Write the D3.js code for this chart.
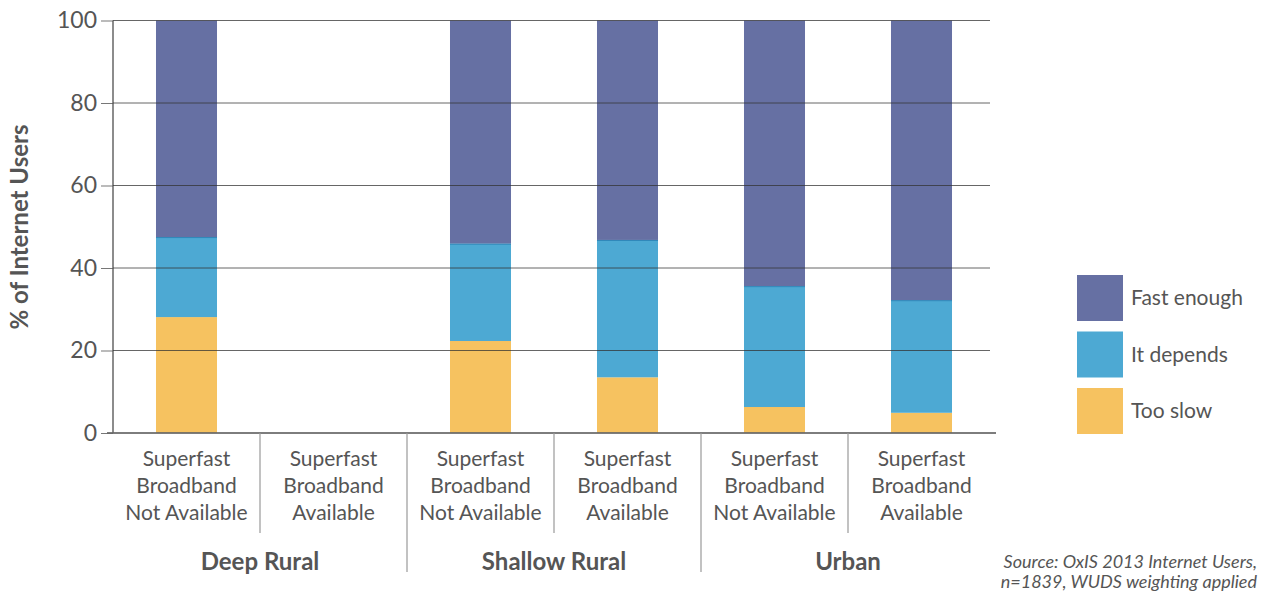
<!DOCTYPE html>
<html>
<head>
<meta charset="utf-8">
<style>
  body { margin: 0; background: #fff; }
  text { font-family: Lato, "Open Sans", sans-serif; fill: #555; }
</style>
</head>
<body>
<div id="chart"></div>
<script src="https://d3js.org/d3.v7.min.js"></script>
<script>

// data
var groups = ["Deep Rural", "Shallow Rural", "Urban"];
var subLabels = [
  ["Superfast", "Broadband", "Not Available"],
  ["Superfast", "Broadband", "Available"]
];
var seriesNames = ["Too slow", "It depends", "Fast enough"];
var tooSlow    = [28.1, null, 22.3, 13.5, 6.3, 4.9];
var itDepends  = [19.4, null, 23.6, 33.3, 29.3, 27.3];
var fastEnough = [52.5, null, 54.1, 53.2, 64.4, 67.8];
var yTicks = [0, 20, 40, 60, 80, 100];
var colors = ["#F6C260", "#4DA9D3", "#6670A3"];

var W = 1268, H = 592;
var mLeft = 113, mRight = 995, mTop = 20.5, mBottom = 433;

var svg = d3.select("#chart").append("svg")
    .attr("width", W).attr("height", H);

// one slot per bar
var slots = [];
groups.forEach(function(g, gi) {
  subLabels.forEach(function(s, si) { slots.push(gi * 2 + si); });
});

var x = d3.scaleBand().domain(slots).range([mLeft, mRight]).paddingInner(0.585).paddingOuter(0.2925);
var y = d3.scaleLinear().domain([0, 100]).range([mBottom, mTop]);
var bw = (mRight - mLeft) / slots.length;

// stacked data
var rows = slots.map(function(i) {
  return { i: i, "Too slow": tooSlow[i], "It depends": itDepends[i], "Fast enough": fastEnough[i] };
}).filter(function(d) { return d["Too slow"] != null; });
var stack = d3.stack().keys(seriesNames)(rows);

svg.append("g").selectAll("g")
  .data(stack)
  .join("g")
    .attr("fill", function(d, k) { return colors[k]; })
  .selectAll("rect")
  .data(function(d) { return d; })
  .join("rect")
    .attr("x", function(d) { return x(d.data.i); })
    .attr("width", x.bandwidth())
    .attr("y", function(d) { return y(d[1]); })
    .attr("height", function(d) { return y(d[0]) - y(d[1]); });

// thin darker line on top of the "It depends" segments
svg.append("g").selectAll("line")
  .data(stack[1])
  .join("line")
    .attr("x1", function(d) { return x(d.data.i); })
    .attr("x2", function(d) { return x(d.data.i) + x.bandwidth(); })
    .attr("y1", function(d) { return y(d[1]) + 0.5; })
    .attr("y2", function(d) { return y(d[1]) + 0.5; })
    .attr("stroke", "#2F86B8").attr("stroke-width", 1);

// gridlines + y axis
var yAxis = svg.append("g")
    .attr("transform", "translate(" + mLeft + ",0)")
    .call(d3.axisLeft(y).tickValues(yTicks).tickSize(12).tickPadding(4));
yAxis.select(".domain").attr("stroke", "#666").attr("stroke-width", 1.5).attr("d", "M0," + mTop + "V" + mBottom);
yAxis.selectAll(".tick line").attr("stroke", "#555").attr("stroke-opacity", 0.8);
yAxis.selectAll(".tick text").style("font-size", "23px").style("font-family", "Lato").attr("fill", "#555");

svg.append("g").selectAll("line")
  .data(yTicks.filter(function(t) { return t > 0; }))
  .join("line")
    .attr("x1", mLeft).attr("x2", mRight - 5)
    .attr("y1", function(d) { return y(d); })
    .attr("y2", function(d) { return y(d); })
    .attr("stroke", "#333").attr("stroke-opacity", 0.75).attr("stroke-width", 1);

// bottom axis line
svg.append("line")
    .attr("x1", mLeft - 6).attr("x2", mRight + 1)
    .attr("y1", mBottom).attr("y2", mBottom)
    .attr("stroke", "#666").attr("stroke-opacity", 0.85).attr("stroke-width", 2);

// dividers
for (var k = 1; k < slots.length; k++) {
  var xx = mLeft + k * bw;
  svg.append("line")
      .attr("x1", xx).attr("x2", xx)
      .attr("y1", mBottom).attr("y2", k % 2 === 0 ? 572 : 533)
      .attr("stroke", "#999").attr("stroke-width", 1.2);
}

// category labels
slots.forEach(function(i) {
  var t = svg.append("text")
      .attr("text-anchor", "middle")
      .style("font-size", "21px");
  subLabels[i % 2].forEach(function(line, li) {
    t.append("tspan")
        .attr("x", x(i) + x.bandwidth() / 2)
        .attr("y", 466 + li * 27)
        .text(line);
  });
});

// group labels
groups.forEach(function(g, gi) {
  svg.append("text")
      .attr("x", mLeft + (gi * 2 + 1) * bw)
      .attr("y", 570)
      .attr("text-anchor", "middle")
      .style("font-size", "24px").style("font-weight", "bold")
      .text(g);
});

// y title
svg.append("text")
    .attr("transform", "translate(28,227) rotate(-90)")
    .attr("text-anchor", "middle")
    .style("font-size", "24px").style("font-weight", "bold")
    .text("% of Internet Users");

// legend
var legendOrder = ["Fast enough", "It depends", "Too slow"];
var leg = svg.append("g").selectAll("g")
  .data(legendOrder)
  .join("g")
    .attr("transform", function(d, i) { return "translate(1077," + (275 + i * 56.5) + ")"; });
leg.append("rect")
    .attr("width", 46).attr("height", 46)
    .attr("fill", function(d) { return colors[seriesNames.indexOf(d)]; });
leg.append("text")
    .attr("x", 54).attr("y", 30)
    .style("font-size", "21px")
    .text(function(d) { return d; });

// source
var src = svg.append("text")
    .attr("text-anchor", "end")
    .style("font-size", "18px").style("font-style", "italic");
src.append("tspan").attr("x", 1257).attr("y", 568).text("Source: OxIS 2013 Internet Users,");
src.append("tspan").attr("x", 1257).attr("y", 588).text("n=1839, WUDS weighting applied");

</script>
</body>
</html>
